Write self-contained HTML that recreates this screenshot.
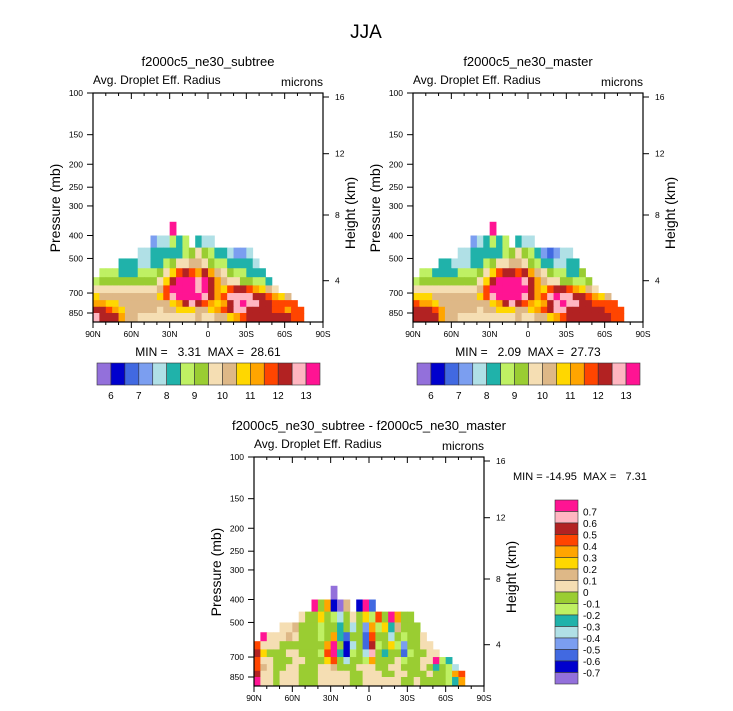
<!DOCTYPE html>
<html><head><meta charset="utf-8"><style>
html,body{margin:0;padding:0;background:#fff;}
svg{display:block;font-family:"Liberation Sans",sans-serif;}
</style></head><body>
<svg id="fig" width="733" height="711" viewBox="0 0 733 711" xmlns="http://www.w3.org/2000/svg">
<text x="366" y="38" font-size="19" text-anchor="middle">JJA</text>
</svg>
<script>
const N = null;
const palette = ["#9370db","#0000cd","#4169e1","#7b9ef0","#b0e0e6","#20b2aa","#bff063","#9acd32","#f5deb3","#deb887","#ffd700","#ffa500","#ff4500","#b22222","#ffb6c1","#ff1493"];
const bandEdges = [350,400,450,500,550,600,650,700,750,800,850,927];
const latTicks = [90,60,30,0,-30,-60,-90];
const latTickLabels = ["90N","60N","30N","0","30S","60S","90S"];
const pTicks = [100,150,200,250,300,400,500,700,850];
const hTicks = [16,12,8,4];
const hTickPx = [4,60.7,122,187.7];
const absLevels = [6,6.5,7,7.5,8,8.5,9,9.5,10,10.5,11,11.5,12,12.5,13];
const absLabels = ["6","7","8","9","10","11","12","13"];
const diffLevels = [-0.7,-0.6,-0.5,-0.4,-0.3,-0.2,-0.1,0,0.1,0.2,0.3,0.4,0.5,0.6,0.7];
const diffLabels = ["0.7","0.6","0.5","0.4","0.3","0.2","0.1","0","-0.1","-0.2","-0.3","-0.4","-0.5","-0.6","-0.7"];

function row(pairs){const r=new Array(36).fill(N);for(const k in pairs)r[k]=pairs[k];return r;}
const subtree = [
 row({12:13.5}),
 row({9:7.25,10:7.75,11:7.75,12:8.75,13:8.25,14:8.75,16:8.25,17:7.75,18:7.75}),
 row({7:7.75,8:7.75,9:8.25,10:8.25,11:8.25,12:8.25,13:8.25,14:8.75,15:9.25,16:9.75,17:9.25,18:8.75,19:8.25,20:8.25,21:7.75,22:7.25,23:7.25,24:7.75}),
 row({4:8.25,5:8.25,6:8.25,7:7.75,8:7.75,9:8.25,10:8.25,11:8.75,12:9.25,13:9.75,14:9.75,15:10.25,16:10.25,17:9.75,18:9.25,19:8.75,20:8.75,21:8.25,22:8.25,23:8.25,24:8.25,25:7.75}),
 row({1:8.75,2:8.75,3:8.75,4:8.25,5:8.25,6:8.25,7:8.75,8:8.75,9:8.75,10:9.25,11:9.75,12:10.75,13:11.75,14:12.25,15:11.75,16:11.25,17:12.25,18:11.25,19:10.25,20:9.75,21:9.25,22:8.75,23:8.75,24:8.25,25:8.25,26:8.25}),
 row({0:8.75,1:9.25,2:9.25,3:9.25,4:9.25,5:9.25,6:9.25,7:9.25,8:9.25,9:9.25,10:9.75,11:10.75,12:12.25,13:13.5,14:13.5,15:13.5,16:12.75,17:13.5,18:12.25,19:11.25,20:10.25,21:9.75,22:9.75,23:9.25,24:9.25,25:8.75,26:8.75,27:8.25}),
 row({0:9.75,1:9.75,2:9.75,3:9.75,4:9.75,5:9.75,6:9.75,7:9.75,8:9.75,9:9.75,10:10.25,11:11.75,12:13.5,13:13.5,14:13.5,15:13.5,16:12.75,17:13.5,18:12.25,19:11.25,20:10.75,21:11.75,22:12.25,23:12.25,24:11.75,25:11.25,26:10.75,27:10.25,28:9.75}),
 row({0:10.75,1:10.25,2:10.25,3:10.25,4:10.25,5:10.25,6:10.25,7:10.25,8:10.25,9:10.25,10:10.75,11:11.75,12:12.75,13:13.5,14:13.5,15:13.5,16:13.5,17:12.75,18:12.25,19:11.25,20:11.75,21:12.75,22:12.75,23:12.75,24:12.75,25:12.25,26:12.25,27:11.75,28:11.25,29:10.75,30:10.25}),
 row({0:11.25,1:11.25,2:10.75,3:10.75,4:10.25,5:10.25,6:10.25,7:10.25,8:10.25,9:10.25,10:10.25,11:10.25,12:10.75,13:11.25,14:12.25,15:12.75,16:12.25,17:11.75,18:11.25,19:10.75,20:11.25,21:12.25,22:12.75,23:13.5,24:12.75,25:12.75,26:12.25,27:12.25,28:11.75,29:11.75,30:11.75,31:11.75}),
 row({0:12.25,1:12.25,2:11.75,3:11.25,4:10.75,5:10.25,6:10.25,7:10.25,8:10.25,9:10.25,10:9.75,11:10.25,12:10.25,13:10.75,14:10.75,15:10.75,16:10.25,17:10.25,18:10.75,19:11.25,20:11.75,21:12.25,22:12.75,23:12.75,24:12.25,25:12.25,26:12.25,27:12.25,28:11.75,29:11.75,30:11.25,31:11.75,32:11.75}),
 row({0:12.75,1:12.25,2:12.25,3:12.25,4:11.25,5:10.25,6:10.25,7:9.75,8:9.75,9:9.75,10:9.75,11:9.75,12:9.75,13:9.75,14:9.75,15:9.75,16:10.25,17:9.75,18:9.75,19:10.25,20:10.25,21:10.75,22:11.25,23:11.75,24:12.25,25:12.25,26:12.25,27:12.25,28:12.25,29:12.25,30:12.25,31:11.75,32:11.75})
];
const master = [
 row({12:13.5}),
 row({9:7.25,10:7.75,11:8.25,12:8.75,13:8.25,14:8.75,16:8.25,17:7.75,18:7.75}),
 row({7:7.75,8:7.75,9:8.25,10:8.25,11:8.25,12:8.25,13:8.25,14:8.75,15:9.25,16:9.75,17:9.25,18:8.75,19:8.25,20:7.25,21:6.75,22:7.25,23:7.75,24:7.75}),
 row({4:8.25,5:8.25,6:7.75,7:7.75,8:7.75,9:8.25,10:8.25,11:8.75,12:9.25,13:9.75,14:9.75,15:10.25,16:10.25,17:9.75,18:9.25,19:8.75,20:8.25,21:8.25,22:7.75,23:7.75,24:8.25,25:8.25}),
 row({1:8.75,2:8.75,3:8.25,4:8.25,5:8.25,6:8.25,7:8.75,8:8.75,9:8.75,10:9.25,11:9.75,12:10.75,13:11.75,14:12.25,15:12.25,16:11.75,17:12.25,18:11.25,19:10.25,20:9.75,21:9.25,22:8.75,23:8.75,24:8.25,25:8.25,26:9.25}),
 row({0:8.75,1:9.25,2:9.25,3:9.25,4:9.25,5:9.25,6:9.25,7:9.25,8:9.25,9:9.25,10:9.75,11:10.75,12:12.25,13:13.5,14:13.5,15:13.5,16:13.5,17:12.75,18:12.25,19:11.25,20:10.25,21:9.75,22:9.75,23:9.25,24:9.25,25:8.75,26:8.75,27:9.25}),
 row({0:9.75,1:9.75,2:9.75,3:9.75,4:9.75,5:9.75,6:9.75,7:9.75,8:9.75,9:9.75,10:10.25,11:11.75,12:13.5,13:13.5,14:13.5,15:13.5,16:13.5,17:13.5,18:12.25,19:11.25,20:10.75,21:11.75,22:12.25,23:12.25,24:11.75,25:11.25,26:10.75,27:10.25,28:9.75}),
 row({0:10.75,1:10.75,2:10.75,3:10.25,4:10.25,5:10.25,6:10.25,7:10.25,8:10.25,9:10.25,10:10.75,11:11.75,12:12.75,13:13.5,14:13.5,15:13.5,16:13.5,17:12.75,18:12.25,19:11.25,20:11.75,21:12.75,22:13.5,23:12.75,24:12.75,25:12.25,26:12.25,27:11.75,28:11.25,29:10.75,30:10.25}),
 row({0:11.75,1:11.25,2:11.25,3:10.75,4:10.25,5:10.25,6:10.25,7:10.25,8:10.25,9:10.25,10:10.25,11:10.25,12:10.75,13:11.25,14:12.25,15:12.75,16:12.25,17:11.75,18:11.25,19:10.75,20:11.25,21:12.25,22:12.75,23:13.5,24:12.75,25:12.75,26:12.25,27:12.25,28:11.75,29:11.75,30:11.75,31:11.75}),
 row({0:12.25,1:12.25,2:12.25,3:11.75,4:11.25,5:10.25,6:10.25,7:10.25,8:10.25,9:10.25,10:9.75,11:10.25,12:10.25,13:10.75,14:10.75,15:10.75,16:10.25,17:10.25,18:10.75,19:11.25,20:11.75,21:12.25,22:12.75,23:12.75,24:12.25,25:12.25,26:12.25,27:12.25,28:12.25,29:12.25,30:11.75,31:11.75,32:11.75}),
 row({0:12.25,1:12.25,2:12.25,3:12.25,4:11.25,5:10.25,6:10.25,7:9.75,8:9.75,9:9.75,10:9.75,11:9.75,12:9.75,13:9.75,14:9.75,15:9.75,16:10.25,17:9.75,18:9.75,19:10.25,20:10.25,21:10.75,22:11.25,23:11.75,24:12.25,25:12.25,26:12.25,27:12.25,28:12.25,29:12.25,30:12.25,31:11.75,32:11.75})
];
const diff = [
 row({12:-0.75}),
 row({9:0.75,10:-0.05,11:0.35,12:-0.65,13:-0.75,14:0.15,16:-0.65,17:0.75,18:-0.55}),
 row({7:0.05,8:-0.05,9:-0.05,10:0.25,11:-0.05,12:-0.15,13:-0.35,14:-0.05,15:0.05,16:-0.05,17:0.25,18:-0.15,19:0.45,20:-0.05,21:0.75,22:0.35,23:-0.05,24:-0.05}),
 row({4:0.05,5:0.05,6:0.15,7:-0.05,8:-0.05,9:-0.05,10:-0.15,11:-0.05,12:-0.05,13:-0.25,14:-0.05,15:-0.35,16:-0.05,17:-0.45,18:0.35,19:-0.15,20:0.25,21:-0.25,22:0.15,23:-0.05,24:-0.05,25:-0.05}),
 row({1:0.75,2:0.05,3:0.05,4:0.05,5:0.15,6:0.05,7:-0.05,8:-0.05,9:-0.05,10:-0.15,11:-0.05,12:0.35,13:-0.25,14:-0.55,15:-0.05,16:-0.05,17:-0.55,18:0.45,19:-0.05,20:-0.05,21:-0.35,22:-0.05,23:-0.15,24:-0.05,25:-0.05,26:0.05}),
 row({0:0.45,1:0.05,2:0.05,3:0.05,4:-0.05,5:-0.05,6:-0.05,7:-0.05,8:-0.05,9:-0.05,10:-0.05,11:0.35,12:0.75,13:-0.05,14:-0.65,15:-0.35,16:-0.05,17:-0.55,18:0.55,19:-0.15,20:-0.05,21:0.25,22:-0.15,23:-0.45,24:-0.05,25:-0.05,26:0.05,27:0.05}),
 row({0:0.55,1:0.25,2:-0.05,3:-0.05,4:-0.05,5:0.05,6:0.05,7:-0.05,8:-0.05,9:-0.05,10:-0.15,11:0.45,12:0.75,13:-0.25,14:-0.65,15:-0.15,16:-0.05,17:-0.35,18:0.65,19:-0.05,20:-0.25,21:-0.05,22:-0.05,23:-0.55,24:-0.15,25:-0.05,26:-0.05,27:0.05,28:0.05}),
 row({0:0.45,1:0.05,2:0.05,3:-0.05,4:-0.05,5:-0.05,6:0.05,7:0.05,8:-0.05,9:-0.05,10:-0.05,11:0.25,12:0.45,13:-0.05,14:-0.35,15:-0.05,16:-0.05,17:-0.15,18:0.35,19:-0.05,20:-0.05,21:-0.05,22:0.05,23:-0.15,24:-0.05,25:-0.05,26:0.05,27:0.05,28:0.75,29:-0.15,30:-0.25}),
 row({0:0.45,1:0.15,2:0.05,3:-0.05,4:-0.05,5:0.05,6:0.05,7:-0.05,8:-0.05,9:-0.05,10:0.05,11:0.05,12:0.15,13:-0.05,14:-0.05,15:-0.05,16:0.05,17:0.05,18:0.05,19:-0.05,20:-0.05,21:0.05,22:0.05,23:-0.05,24:-0.05,25:-0.05,26:0.05,27:-0.05,28:-0.25,29:-0.05,30:-0.15,31:-0.35}),
 row({0:0.55,1:0.05,2:0.05,3:-0.05,4:0.05,5:0.05,6:0.05,7:-0.05,8:-0.05,9:-0.05,10:0.05,11:0.05,12:0.05,13:0.05,14:0.05,15:-0.05,16:-0.05,17:0.05,18:0.05,19:0.05,20:-0.05,21:-0.05,22:0.05,23:0.05,24:-0.05,25:-0.05,26:-0.05,27:0.05,28:-0.05,29:-0.05,30:-0.15,31:0.35,32:0.45}),
 row({0:0.75,1:0.05,2:0.05,3:-0.05,4:0.05,5:0.05,6:0.05,7:-0.05,8:-0.05,9:-0.05,10:0.05,11:0.05,12:0.05,13:0.05,14:0.05,15:-0.05,16:-0.05,17:0.05,18:0.05,19:0.05,20:0.05,21:0.05,22:0.05,23:-0.05,24:-0.05,25:0.05,26:-0.05,27:-0.05,28:-0.05,29:-0.05,30:-0.15,31:-0.25,32:0.35})
];

const svg = document.getElementById('fig');
const NS = "http://www.w3.org/2000/svg";
function mk(tag, attrs, parent, text){const e=document.createElementNS(NS,tag);for(const k in attrs)e.setAttribute(k,attrs[k]);if(text!==undefined)e.textContent=text;(parent||svg).appendChild(e);return e;}
function colorIdx(v, levels){let i=0;while(i<levels.length && v>=levels[i])i++;return i;}

function panel(ox, oy, title, sub, data, levels, name){
  const W=230,H=229,K=102.8;
  const g = mk('g',{});
  
  
  const x = lat => ox + (90-lat)/180*W;
  const y = p => oy + K*Math.log(p/100);
  const t1 = mk('text',{x:ox+W/2,y:oy-27,'font-size':13,'text-anchor':'middle'},g,title);
  
  
  const t2 = mk('text',{x:ox,y:oy-9,'font-size':12},g,'Avg. Droplet Eff. Radius');
  
  
  const t3 = mk('text',{x:ox+W,y:oy-7,'font-size':12,'text-anchor':'end'},g,'microns');
  
  
  for(let b=0;b<data.length;b++){
    const y0=y(bandEdges[b]), y1=Math.min(y(bandEdges[b+1]),oy+H);
    for(let c=0;c<36;c++){
      const v=data[b][c]; if(v===null||v===undefined) continue;
      const latA=90-5*c;
      const r = mk('rect',{x:x(latA),y:y0,width:W/36+0.4,height:y1-y0+0.4,fill:palette[colorIdx(v,levels)]},g);
      
      
    }
  }
  const box = mk('rect',{x:ox,y:oy,width:W,height:H,fill:'none',stroke:'#000','stroke-width':1.2},g);
  
  
  pTicks.forEach(p=>{
    const yy=y(p);
    mk('line',{x1:ox-6,x2:ox,y1:yy,y2:yy,stroke:'#000','stroke-width':1},g);
    const l=mk('text',{x:ox-10,y:yy+3,'font-size':8.5,'text-anchor':'end'},g,String(p));
    
    
  });
  hTicks.forEach((h,i)=>{
    const yy=oy+hTickPx[i];
    mk('line',{x1:ox+W,x2:ox+W+6,y1:yy,y2:yy,stroke:'#000','stroke-width':1},g);
    const l=mk('text',{x:ox+W+12,y:yy+3,'font-size':8.5},g,String(h));
    
    
  });
  for(let lat=90;lat>=-90;lat-=10){
    const major = lat%30===0;
    mk('line',{x1:x(lat),x2:x(lat),y1:oy+H,y2:oy+H+(major?6:3),stroke:'#000','stroke-width':1},g);
    mk('line',{x1:x(lat),x2:x(lat),y1:oy,y2:oy+(major?6:3),stroke:'#000','stroke-width':1},g);
  }
  latTicks.forEach((lat,i)=>{
    const l=mk('text',{x:x(lat),y:oy+H+15,'font-size':8.5,'text-anchor':'middle'},g,latTickLabels[i]);
    
    
  });
  const yl = mk('text',{x:0,y:0,'font-size':14,'text-anchor':'middle',transform:`translate(${ox-33},${oy+115}) rotate(-90)`},g,'Pressure (mb)');
  
  
  const yr = mk('text',{x:0,y:0,'font-size':14,'text-anchor':'middle',transform:`translate(${ox+W+32},${oy+120}) rotate(-90)`},g,'Height (km)');
  
  
  if(sub){
    const s=mk('text',{x:ox+W/2,y:oy+H+34,'font-size':12,'text-anchor':'middle',style:'white-space:pre'},g,sub);
    
    
  }
}
function hbar(ox, oy){
  const g = mk('g',{});
  
  
  const w=223/16;
  palette.forEach((c,i)=>{
    const r=mk('rect',{x:ox+i*w,y:oy,width:w,height:22,fill:c,stroke:'#333','stroke-width':0.6},g);
    
    
  });
  absLabels.forEach((t,i)=>{
    const l=mk('text',{x:ox+(2*i+1)*w,y:oy+36,'font-size':10,'text-anchor':'middle'},g,t);
    
    
  });
}
panel(93,93,'f2000c5_ne30_subtree','MIN =   3.31  MAX =  28.61',subtree,absLevels,'panel-subtree');
panel(413,93,'f2000c5_ne30_master','MIN =   2.09  MAX =  27.73',master,absLevels,'panel-master');
hbar(97,363); hbar(417,363);
panel(254,457,'f2000c5_ne30_subtree - f2000c5_ne30_master',null,diff,diffLevels,'panel-difference');
const mm = mk('text',{x:513,y:480,'font-size':11,style:'white-space:pre'},svg,'MIN = -14.95  MAX =   7.31');


const vg = mk('g',{});


const vh=184/16;
for(let i=0;i<16;i++){
  const r=mk('rect',{x:555,y:500+i*vh,width:23,height:vh,fill:palette[15-i],stroke:'#333','stroke-width':0.6},vg);
  
  
}
diffLabels.forEach((t,i)=>{
  const l=mk('text',{x:583,y:500+(i+1)*vh+4,'font-size':10},vg,t);
  
  
});
</script>
</body></html>
